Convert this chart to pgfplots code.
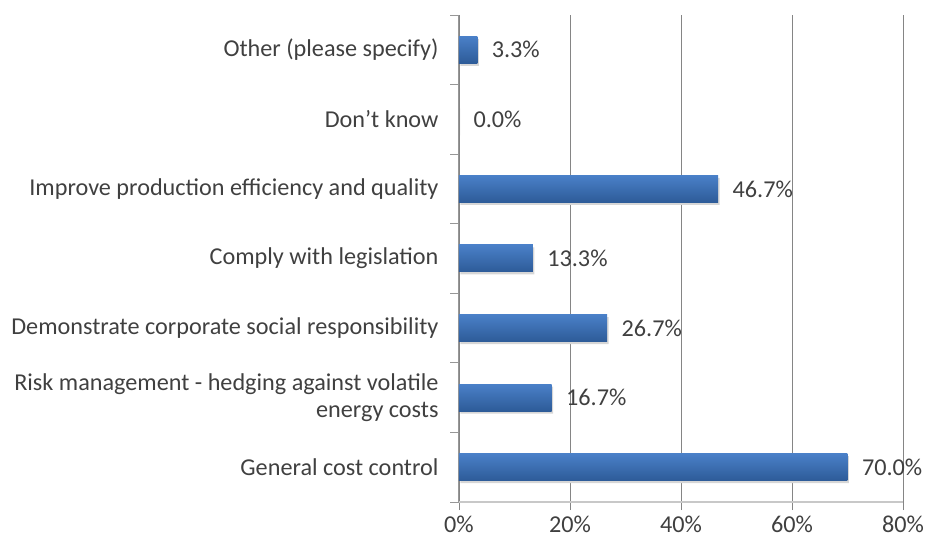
\documentclass[border=0pt]{standalone}
\usepackage{fontspec}
\setmainfont{Carlito}
\usepackage{pgfplots}
\usepackage{pgfplotstable}
\pgfplotsset{compat=1.18}

\definecolor{barTop}{HTML}{4A80C8}
\definecolor{barBot}{HTML}{2D5B98}
\definecolor{txt}{HTML}{404040}
\definecolor{gridc}{HTML}{858585}
\definecolor{baseln}{HTML}{C8C8C8}

% y = category position (0 = bottom), val = share of respondents in %
\pgfplotstableread[col sep=comma]{
y,val
0,70.0
1,16.7
2,26.7
3,13.3
4,46.7
5,0.0
6,3.3
}\reasons

\pgfplotsset{
  shadowbar/.style={xbar, bar width=27bp, bar shift=0pt, draw=none,
    fill=black!16, xshift=1.5bp, yshift=-2.5bp, forget plot},
  bluebar/.style={xbar, bar width=27bp, bar shift=0pt, draw=none,
    top color=barTop, bottom color=barBot, forget plot},
}

\begin{document}
\begin{tikzpicture}[font=\fontsize{24.3}{28}\selectfont]
\path[use as bounding box] (-459bp,-40bp) rectangle (469bp,502bp);
\begin{axis}[
  at={(0,0)}, anchor=south west,
  scale only axis, width=444bp, height=487bp,
  xmin=0, xmax=80, ymin=-0.5, ymax=6.5,
  clip=false,
  /pgf/number format/assume math mode=true,
  axis x line*=bottom, axis y line*=left,
  x axis line style={draw=baseln, line width=1.6bp},
  y axis line style={draw=gridc!85, line width=1bp},
  xtick={0,20,...,80},
  xticklabel={\pgfmathprintnumber{\tick}\%},
  xmajorgrids, grid style={draw=gridc, line width=0.9bp},
  tick align=outside, major tick length=8bp,
  xtick style={draw=gridc, line width=0.9bp},
  ytick={0,...,6},
  yticklabels={
    General cost control,
    {Risk management - hedging against volatile\\energy costs},
    Demonstrate corporate social responsibility,
    Comply with legislation,
    Improve production efficiency and quality,
    Don’t know,
    Other (please specify)},
  ytick style={draw=none},
  yticklabel style={align=right, text=txt, xshift=-9bp},
  xticklabel style={text=txt, yshift=-2bp},
]
% soft shadow under the bars
\addplot[shadowbar] table[x=val, y=y] {\reasons};
% bars, one plot each so that every bar gets its own gradient
\addplot[bluebar] coordinates {(70.0,0)};
\addplot[bluebar] coordinates {(16.7,1)};
\addplot[bluebar] coordinates {(26.7,2)};
\addplot[bluebar] coordinates {(13.3,3)};
\addplot[bluebar] coordinates {(46.7,4)};
\addplot[bluebar] coordinates {(3.3,6)};
% value labels
\addplot[draw=none, mark=none, point meta=x,
  nodes near coords={\pgfmathprintnumber[fixed, fixed zerofill, precision=1]{\pgfplotspointmeta}\%},
  every node near coord/.style={anchor=west, xshift=11bp, text=txt}]
  table[x=val, y=y] {\reasons};
% boundary ticks on the category axis
\pgfplotsinvokeforeach{-0.5,0.5,...,6.5}{
  \draw[draw=gridc!85, line width=0.9bp] (axis cs:0,#1) -- ([xshift=-9bp]axis cs:0,#1);
}
\end{axis}
\end{tikzpicture}
\end{document}
